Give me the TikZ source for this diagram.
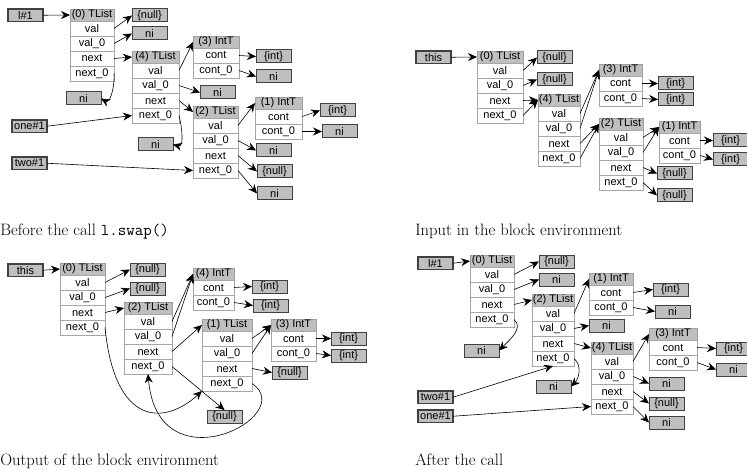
\documentclass[tikz,border=0pt]{standalone}
\usepackage{fontspec}
\newfontfamily\boxfont{Liberation Sans}
\usetikzlibrary{arrows.meta}

% object: grey header, then one white row per field
\newcommand{\tlistbox}[5][45]{%
  \node[hdr, minimum width=#1] (#2) at (#3,#4) {#5};
  \node[fld, minimum width=#1] (#2-val)   at (#2.south)      {val};
  \node[fld, minimum width=#1] (#2-val0)  at (#2-val.south)  {val\_0};
  \node[fld, minimum width=#1] (#2-next)  at (#2-val0.south) {next};
  \node[fld, minimum width=#1] (#2-next0) at (#2-next.south) {next\_0};
}
\newcommand{\inttbox}[5][45]{%
  \node[hdr, minimum width=#1] (#2) at (#3,#4) {#5};
  \node[fld, minimum width=#1] (#2-cont)  at (#2.south)      {cont};
  \node[fld, minimum width=#1] (#2-cont0) at (#2-cont.south) {cont\_0};
}

\begin{document}
\begin{tikzpicture}[
  x=1pt, y=-1pt,
  ->, >={Stealth[length=9pt,width=8pt,inset=3pt]}, semithick,
  hdr/.style={anchor=north west, draw=gray!75, fill=gray!50, line width=0.8pt,
              minimum height=12, inner sep=0pt, outer sep=0pt,
              font=\boxfont\fontsize{11}{12}\selectfont},
  fld/.style={anchor=north, draw=gray!70, fill=white, line width=0.8pt,
              minimum height=15, inner sep=0pt, outer sep=0pt,
              font=\boxfont\fontsize{11}{12}\selectfont},
  valbox/.style={anchor=north west, draw=black!75, fill=gray!50, line width=1pt,
                 minimum width=35, minimum height=13, inner sep=0pt, outer sep=0pt,
                 font=\boxfont\fontsize{11}{12}\selectfont},
  varbox/.style={valbox, line width=1.2pt, minimum height=12.5},
  captext/.style={anchor=base west, inner sep=0pt, font=\fontsize{16.5}{19}\selectfont},
]
\useasboundingbox (0,0) rectangle (747,473);

% --- Before the call ---
\node[varbox] (Al) at (8,9) {l\#1};
\tlistbox[44]{A0}{70}{9}{(0) TList}
\node[valbox] (Anull) at (132,9) {\{null\}};
\node[valbox] (Ani0) at (132,27) {ni};
\tlistbox[47]{A4}{132}{51}{(4) TList}
\node[valbox] (Ani1) at (66,92) {ni};
\inttbox[46]{A3}{193}{36}{(3) IntT}
\node[valbox] (Aint3) at (256,50) {\{int\}};
\node[valbox] (Ani3) at (256,70) {ni};
\node[valbox] (Ani4) at (200,86) {ni};
\tlistbox{A2}{193}{106}{(2) TList}
\node[valbox] (Ani5) at (138,138) {ni};
\node[varbox] (Aone) at (12,120) {one\#1};
\node[varbox] (Atwo) at (12,157) {two\#1};
\inttbox[47]{A1}{255}{97}{(1) IntT}
\node[valbox] (Aint1) at (320,104) {\{int\}};
\node[valbox] (Ani6) at (322,125) {ni};
\node[valbox] (Ani2v) at (256,144) {ni};
\node[valbox] (Anull2) at (257,165) {\{null\}};
\node[valbox] (Ani2n) at (257,187) {ni};

\draw (Al.east) -- (A0.west);
\draw (A0-val.east) -- (Anull.west);
\draw (A0-val0.east) -- (Ani0.west);
\draw (A0-next.east) -- (A4.west);
\draw (A0-next0.east) to[out=-85,in=-30] (Ani1.east);
\draw (A4-val.east) -- (A3.west);
\draw (A4-val0.east) -- (Ani4.west);
\draw (A4-next.east) -- (A2.west);
\draw (A4-next0.east) to[out=-75,in=-15] (Ani5.east);
\draw (Aone.east) -- (A4-next0.west);
\draw (Atwo.east) -- (A2-next0.west);
\draw (A3-cont.east) -- (Aint3.west);
\draw (A3-cont0.east) -- (Ani3.west);
\draw (A2-val.east) -- (A1.west);
\draw (A2-val0.east) -- (Ani2v.west);
\draw (A2-next.east) -- (Anull2.west);
\draw (A2-next0.east) -- (Ani2n.west);
\draw (A1-cont.east) -- (Aint1.west);
\draw (A1-cont0.east) -- (Ani6.west);

% --- Input of the block ---
\node[varbox] (Bthis) at (416,51) {this};
\tlistbox[46]{B0}{477}{51}{(0) TList}
\node[valbox] (Bnull0) at (537,51) {\{null\}};
\node[valbox] (Bnull1) at (537,73) {\{null\}};
\tlistbox[42]{B4}{538}{94}{(4) TList}
\inttbox[43]{B3}{599}{64}{(3) IntT}
\node[valbox] (Bint0) at (658,77) {\{int\}};
\node[valbox] (Bint1) at (658,93) {\{int\}};
\tlistbox[44]{B2}{599}{118}{(2) TList}
\inttbox[41]{B1}{659}{121}{(1) IntT}
\node[valbox] (Bint2) at (713,134) {\{int\}};
\node[valbox] (Bint3) at (713,153) {\{int\}};
\node[valbox] (Bnull2) at (657,167) {\{null\}};
\node[valbox] (Bnull3) at (657,189) {\{null\}};

\draw (Bthis.east) -- (B0.west);
\draw (B0-val.east) -- (Bnull0.west);
\draw (B0-val0.east) -- (Bnull1.west);
\draw (B0-next.east) -- (B4.west);
\draw (B0-next0.east) -- (B4.west);
\draw (B4-val.east) -- (B3.west);
\draw (B4-val0.east) -- (B3.west);
\draw (B4-next.east) -- (B2.west);
\draw (B4-next0.east) -- (B2.west);
\draw (B3-cont.east) -- (Bint0.west);
\draw (B3-cont0.east) -- (Bint1.west);
\draw (B2-val.east) -- (B1.west);
\draw (B2-val0.east) -- (B1.west);
\draw (B2-next.east) -- (Bnull2.west);
\draw (B2-next0.east) -- (Bnull3.west);
\draw (B1-cont.east) -- (Bint2.west);
\draw (B1-cont0.east) -- (Bint3.west);

% --- Output of the block ---
\node[varbox] (Cthis) at (8,264) {this};
\tlistbox[45]{C0}{60}{263}{(0) TList}
\node[valbox] (Cnull0) at (130,263) {\{null\}};
\node[valbox] (Cnull1) at (130,282) {\{null\}};
\tlistbox[48]{C2}{124}{302}{(2) TList}
\inttbox[41]{C4}{193}{268}{(4) IntT}
\node[valbox] (Cint0) at (252,280) {\{int\}};
\node[valbox] (Cint1) at (253,299) {\{int\}};
\tlistbox[50]{C1}{202}{319}{(1) TList}
\inttbox[45]{C3}{271}{319}{(3) IntT}
\node[valbox] (Cint2) at (331,332) {\{int\}};
\node[valbox] (Cint3) at (331,349) {\{int\}};
\node[valbox] (Cnull2) at (272,366) {\{null\}};
\node[valbox] (Cnull3) at (207,410) {\{null\}};

\draw (Cthis.east) -- (C0.west);
\draw (C0-val.east) -- (Cnull0.west);
\draw (C0-val0.east) -- (Cnull1.west);
\draw (C0-next.east) -- (C2.west);
\draw (C0-next0.east) .. controls +(10,100) and +(-37,34) .. (C1-next0.south west);
\draw (C2-val.east) -- (C4.west);
\draw (C2-val0.east) -- (C4.west);
\draw (C2-next.east) -- (C1.west);
\draw (C2-next0.east) -- (Cnull3.north);
\draw (C1-val.east) -- (C3.west);
\draw (C1-val0.east) -- (C3.west);
\draw (C1-next.east) -- (Cnull2.west);
\draw (C1-next0.east) .. controls +(48,32) and +(10,115) .. (C2-next0.south);
\draw (C4-cont.east) -- (Cint0.west);
\draw (C4-cont0.east) -- (Cint1.west);
\draw (C3-cont.east) -- (Cint2.west);
\draw (C3-cont0.east) -- (Cint3.west);

% --- After the call ---
\node[varbox] (Dl) at (418,257) {l\#1};
\tlistbox[44]{D0}{470}{255}{(0) TList}
\node[valbox] (Dnull0) at (539,255) {\{null\}};
\node[valbox] (Dni0) at (539,273) {ni};
\tlistbox[42]{D2}{532}{294}{(2) TList}
\node[valbox] (Dni1) at (464,344) {ni};
\inttbox[44]{D1}{589}{273}{(1) IntT}
\node[valbox] (Dint0) at (653,283) {\{int\}};
\node[valbox] (Dni2) at (655,305) {ni};
\node[valbox] (Dni3) at (589,319) {ni};
\tlistbox[42]{D4}{591}{342}{(4) TList}
\node[valbox] (Dni4) at (536,380) {ni};
\node[varbox] (Dtwo) at (418,391) {two\#1};
\node[varbox] (Done) at (418,410) {one\#1};
\inttbox[48]{D3}{649}{328}{(3) IntT}
\node[valbox] (Dint1) at (716,342) {\{int\}};
\node[valbox] (Dni5) at (716,363) {ni};
\node[valbox] (Dni6) at (649,377) {ni};
\node[valbox] (Dnull1) at (649,397) {\{null\}};
\node[valbox] (Dni7) at (649,416) {ni};

\draw (Dl.east) -- (D0.west);
\draw (D0-val.east) -- (Dnull0.west);
\draw (D0-val0.east) -- (Dni0.west);
\draw (D0-next.east) -- (D2.west);
\draw (D0-next0.east) to[out=-40,in=45] (Dni1.east);
\draw (D2-val.east) -- (D1.west);
\draw (D2-val0.east) -- (Dni3.west);
\draw (D2-next.east) -- (D4.west);
\draw (D2-next0.east) to[out=-40,in=45] (Dni4.east);
\draw (Dtwo.east) -- (D2-next0.south);
\draw (Done.east) -- (D4-next0.west);
\draw (D1-cont.east) -- (Dint0.west);
\draw (D1-cont0.east) -- (Dni2.west);
\draw (D4-val.east) -- (D3.west);
\draw (D4-val0.east) -- (Dni6.west);
\draw (D4-next.east) -- (Dnull1.west);
\draw (D4-next0.east) -- (Dni7.west);
\draw (D3-cont.east) -- (Dint1.west);
\draw (D3-cont0.east) -- (Dni5.west);

% --- captions ---
\node[captext] (capA) at (0,236)   {Before the call \texttt{l.swap()}};
\node[captext] (capB) at (415,236) {Input in the block environment};
\node[captext] (capC) at (0,465)   {Output of the block environment};
\node[captext] (capD) at (415,465) {After the call};
\end{tikzpicture}
\end{document}
